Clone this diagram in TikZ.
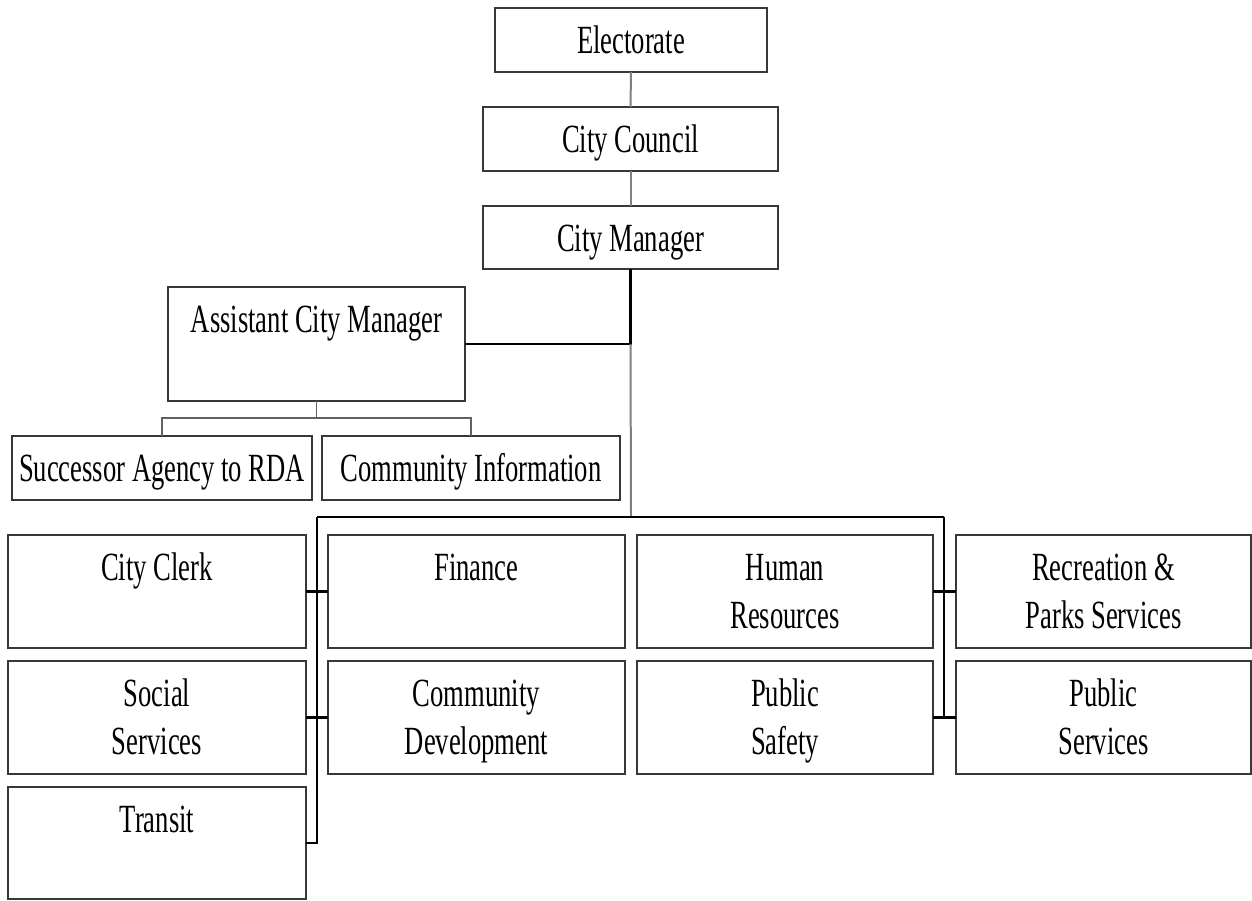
\documentclass[tikz,border=0pt]{standalone}
\usepackage{fontspec}
\setmainfont{Liberation Serif}[FakeStretch=0.665]
\usetikzlibrary{calc}
\tikzset{
  obox/.style={draw=black!78, line width=1.3pt, inner sep=0pt, outer sep=0pt, anchor=north west,
    font=\fontsize{30}{36}\selectfont, fill=white},
  grayline/.style={draw=black!50, line width=1.5pt},
  darkline/.style={draw=black!62, line width=1.3pt},
  blackline/.style={draw=black, line width=1.6pt},
}
\newcommand\obox[6]{%
  \pgfmathsetlengthmacro\bw{(#4-#2)*0.75pt}%
  \pgfmathsetlengthmacro\bh{(#5-#3)*0.75pt}%
  \node[obox] (#1) at (#2,#3) {\parbox[c][\bh][t]{\bw}{\centering\begin{tabular}[t]{@{}c@{}}\rule{0pt}{33.75pt}#6\end{tabular}\par}};%
}
\begin{document}
\begin{tikzpicture}[x=0.75pt,y=-0.75pt]
\useasboundingbox (0,0) rectangle (1252,900);
% top chain
\obox{elec}{495}{8}{767}{72}{Electorate}
\obox{council}{483}{107}{778}{171}{City Council}
\obox{mgr}{483}{206}{778}{269}{City Manager}
\obox{asst}{168}{287}{465}{401}{Assistant City Manager}
\obox{rda}{12}{436}{312}{500}{Successor Agency to RDA}
\obox{info}{322}{436}{620}{500}{Community Information}
% grid
\obox{clerk}{8}{535}{306}{648}{City Clerk}
\obox{fin}{328}{535}{625}{648}{Finance}
\obox{hr}{637}{535}{933}{648}{Human\\Resources}
\obox{rec}{956}{535}{1251}{648}{Recreation \&\\Parks Services}
\obox{soc}{8}{661}{306}{774}{Social\\Services}
\obox{cd}{328}{661}{625}{774}{Community\\Development}
\obox{ps}{637}{661}{933}{774}{Public\\Safety}
\obox{pub}{956}{661}{1251}{774}{Public\\Services}
\obox{transit}{8}{787}{306}{899}{Transit}
% coordinates
\coordinate (j1) at (mgr.south |- asst.east);
\coordinate (bus) at (631,517);
\coordinate (busL) at (317,517);
\coordinate (busR) at (944,517);
\coordinate (aj) at (asst.south |- 0,418);
% connectors
\draw[grayline] (elec.south) -- (council.north);
\draw[grayline] (council.south) -- (mgr.south |- council.south) -- (mgr.north);
\draw[blackline] (mgr.south) -- (j1) -- (asst.east);
\draw[grayline] (j1) -- (bus);
\draw[blackline] (busL) -- (busR);
\draw[blackline] (busL) -- (busL |- transit.east) -- (transit.east);
\draw[blackline] (busR) -- (busR |- pub.west);
\draw[blackline] (clerk.east) -- (fin.west);
\draw[blackline] (soc.east) -- (cd.west);
\draw[blackline] (hr.east) -- (rec.west);
\draw[blackline] (ps.east) -- (pub.west);
\draw[darkline] (asst.south) -- (aj);
\draw[darkline] (rda.north) -- (rda.north |- aj) -- (info.north |- aj) -- (info.north);
\end{tikzpicture}
\end{document}
